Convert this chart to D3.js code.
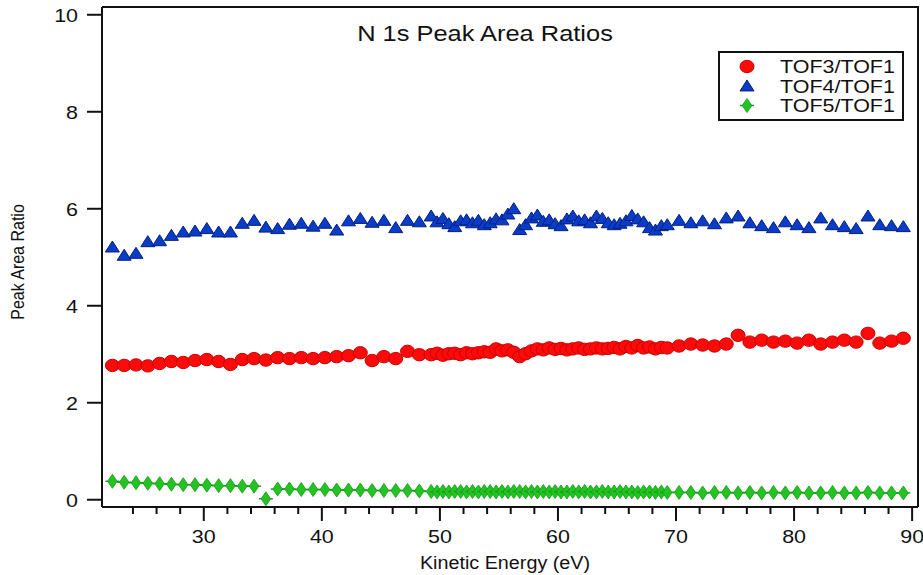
<!DOCTYPE html>
<html>
<head>
<meta charset="utf-8">
<script src="https://cdn.jsdelivr.net/npm/d3@7"></script>
<style>
  html, body { margin: 0; padding: 0; background: #fff; }
  svg { display: block; }
  text { font-family: "Liberation Sans", Arial, sans-serif; fill: #111; }
</style>
</head>
<body>
<svg id="chart" width="923" height="575"></svg>
<script>
// Kinetic energies (eV) of the measured points
const energy = [
  22.3, 23.3, 24.3, 25.3, 26.3, 27.3, 28.3, 29.3, 30.3, 31.3, 32.3, 33.3, 34.3, 35.3,
  36.3, 37.3, 38.3, 39.3, 40.3, 41.3, 42.3, 43.3, 44.3, 45.3, 46.3, 47.3, 48.3,
  49.3, 49.8, 50.3, 50.8, 51.3, 51.8, 52.3, 52.8, 53.3, 53.8, 54.3, 54.8, 55.3, 55.8,
  56.3, 56.8, 57.3, 57.8, 58.3, 58.8, 59.3, 59.8, 60.3, 60.8, 61.3, 61.8, 62.3, 62.8,
  63.3, 63.8, 64.3, 64.8, 65.3, 65.8, 66.3, 66.8, 67.3, 67.8, 68.3, 68.8, 69.3,
  70.3, 71.3, 72.3, 73.3, 74.3, 75.3, 76.3, 77.3, 78.3, 79.3, 80.3, 81.3, 82.3, 83.3,
  84.3, 85.3, 86.3, 87.3, 88.3, 89.3
];

// TOF3/TOF1 peak area ratio
const tof3 = [
  2.76, 2.76, 2.77, 2.75, 2.80, 2.84, 2.82, 2.86, 2.88, 2.84, 2.78, 2.88, 2.90, 2.87,
  2.92, 2.90, 2.92, 2.90, 2.92, 2.94, 2.96, 3.02, 2.86, 2.94, 2.90, 3.05, 2.98,
  2.98, 3.01, 2.97, 3.00, 3.01, 2.98, 3.02, 3.00, 3.02, 3.04, 3.03, 3.10, 3.06, 3.08,
  3.03, 2.94, 3.00, 3.06, 3.10, 3.08, 3.12, 3.09, 3.11, 3.08, 3.10, 3.12, 3.09, 3.10,
  3.12, 3.10, 3.11, 3.13, 3.10, 3.15, 3.12, 3.17, 3.12, 3.14, 3.10, 3.13, 3.12,
  3.16, 3.20, 3.18, 3.16, 3.20, 3.38, 3.24, 3.28, 3.24, 3.26, 3.22, 3.28, 3.20, 3.24,
  3.28, 3.24, 3.42, 3.22, 3.26, 3.32
];

// TOF4/TOF1 peak area ratio
const tof4 = [
  5.20, 5.03, 5.07, 5.31, 5.33, 5.44, 5.51, 5.53, 5.58, 5.51, 5.51, 5.69, 5.75, 5.61,
  5.58, 5.67, 5.69, 5.63, 5.69, 5.55, 5.74, 5.79, 5.71, 5.75, 5.60, 5.75, 5.72,
  5.84, 5.72, 5.79, 5.68, 5.62, 5.74, 5.76, 5.70, 5.75, 5.66, 5.70, 5.78, 5.76, 5.88,
  5.99, 5.56, 5.66, 5.80, 5.86, 5.73, 5.76, 5.68, 5.64, 5.78, 5.84, 5.74, 5.76, 5.70,
  5.84, 5.79, 5.70, 5.66, 5.69, 5.74, 5.85, 5.78, 5.72, 5.60, 5.55, 5.64, 5.66,
  5.75, 5.70, 5.74, 5.68, 5.80, 5.84, 5.70, 5.64, 5.60, 5.72, 5.66, 5.60, 5.80, 5.66,
  5.62, 5.58, 5.84, 5.66, 5.64, 5.62
];

// TOF5/TOF1 peak area ratio
const tof5 = [
  0.37, 0.35, 0.34, 0.33, 0.32, 0.31, 0.30, 0.30, 0.29, 0.28, 0.28, 0.27, 0.27, 0.01,
  0.21, 0.21, 0.20, 0.20, 0.20, 0.19, 0.19, 0.19, 0.18, 0.18, 0.18, 0.18, 0.17,
  0.16, 0.15, 0.16, 0.15, 0.16, 0.16, 0.15, 0.16, 0.15, 0.16, 0.16, 0.15, 0.16, 0.15,
  0.16, 0.16, 0.15, 0.16, 0.15, 0.16, 0.15, 0.16, 0.15, 0.15, 0.16, 0.15, 0.16, 0.15,
  0.15, 0.16, 0.15, 0.15, 0.16, 0.15, 0.15, 0.14, 0.15, 0.15, 0.14, 0.15, 0.14,
  0.14, 0.14, 0.13, 0.14, 0.14, 0.13, 0.14, 0.13, 0.14, 0.13, 0.14, 0.13, 0.13, 0.14,
  0.13, 0.13, 0.14, 0.13, 0.13, 0.13
];

const seriesNames = ["TOF3/TOF1", "TOF4/TOF1", "TOF5/TOF1"];
const yTicks = [0, 2, 4, 6, 8, 10];
const xTicks = [30, 40, 50, 60, 70, 80, 90];
const xMinorTicks = [24, 26, 28, 32, 34, 36, 38, 42, 44, 46, 48, 52, 54, 56, 58,
                     62, 64, 66, 68, 72, 74, 76, 78, 82, 84, 86, 88];
const titleText = "N 1s Peak Area Ratios";
const xTitle = "Kinetic Energy (eV)";
const yTitle = "Peak Area Ratio";

// layout
const plot = { left: 102, right: 918, top: 7, bottom: 507 };
const stretch = 1.13;   // horizontal widening of the lettering

const svg = d3.select("#chart");

const x = d3.scaleLinear().domain([21.42, 90.54]).range([plot.left, plot.right]);
const y = d3.scaleLinear().domain([-0.16, 10.15]).range([plot.bottom, plot.top]);

const styles = [
  { fill: "#ff0a0a", stroke: "#c80000" },
  { fill: "#0b3cc8", stroke: "#00207f" },
  { fill: "#22c322", stroke: "#129a12" }
];

// marker drawing helpers
function circleMark(g, cx, cy, s) {
  g.append("ellipse").attr("cx", cx).attr("cy", cy).attr("rx", 7).attr("ry", 6.2)
    .attr("fill", s.fill).attr("stroke", s.stroke).attr("stroke-width", 1);
}
function triangleMark(g, cx, cy, s) {
  const w = 7, h = 11;
  g.append("path")
    .attr("d", `M${cx},${cy - h * 0.55}L${cx + w},${cy + h * 0.45}L${cx - w},${cy + h * 0.45}Z`)
    .attr("fill", s.fill).attr("stroke", s.stroke).attr("stroke-width", 1).attr("stroke-linejoin", "round");
}
function diamondMark(g, cx, cy, s) {
  g.append("line").attr("x1", cx - 7).attr("x2", cx + 7).attr("y1", cy).attr("y2", cy)
    .attr("stroke", s.stroke).attr("stroke-width", 1.4);
  const w = 4.8, h = 7;
  g.append("path")
    .attr("d", `M${cx},${cy - h}L${cx + w},${cy}L${cx},${cy + h}L${cx - w},${cy}Z`)
    .attr("fill", s.fill).attr("stroke", s.stroke).attr("stroke-width", 0.8);
}
const markers = [circleMark, triangleMark, diamondMark];
const seriesValues = [tof3, tof4, tof5];

// data points
const pts = svg.append("g").attr("class", "points");
[0, 1, 2].forEach(k => {
  const g = pts.append("g");
  energy.forEach((e, i) => markers[k](g, x(e), y(seriesValues[k][i]), styles[k]));
});

// frame (top and right edges)
svg.append("path")
  .attr("d", `M${plot.left},${plot.top}H${plot.right}V${plot.bottom}`)
  .attr("fill", "none").attr("stroke", "#111").attr("stroke-width", 2);

// y axis
const yAxis = svg.append("g")
  .attr("transform", `translate(${plot.left},0)`)
  .call(d3.axisLeft(y).tickValues(yTicks).tickSize(15).tickSizeOuter(0).tickFormat(d3.format("d")));
yAxis.select(".domain").attr("stroke", "#111").attr("stroke-width", 2)
  .attr("d", `M0,${plot.top}V${plot.bottom}`);
yAxis.selectAll(".tick line").attr("stroke", "#111").attr("stroke-width", 2);
yAxis.selectAll(".tick text")
  .attr("x", -24 / stretch).attr("dy", "0.36em")
  .attr("transform", `scale(${stretch},1)`)
  .style("font-size", "19px").style("font-family", "Liberation Sans, Arial, sans-serif");

// x axis, major ticks
const xAxis = svg.append("g")
  .attr("transform", `translate(0,${plot.bottom})`)
  .call(d3.axisBottom(x).tickValues(xTicks).tickSize(14).tickSizeOuter(0).tickFormat(d3.format("d")));
xAxis.select(".domain").attr("stroke", "#111").attr("stroke-width", 2)
  .attr("d", `M${plot.left},0H${plot.right}`);
xAxis.selectAll(".tick line").attr("stroke", "#111").attr("stroke-width", 2);
xAxis.selectAll(".tick text")
  .attr("y", 36).attr("dy", 0)
  .attr("transform", `scale(${stretch},1)`)
  .style("font-size", "19px").style("font-family", "Liberation Sans, Arial, sans-serif");

// x axis, minor ticks
svg.append("g")
  .attr("transform", `translate(0,${plot.bottom})`)
  .call(d3.axisBottom(x).tickValues(xMinorTicks).tickSize(7).tickSizeOuter(0).tickFormat(""))
  .call(g => g.select(".domain").remove())
  .selectAll(".tick line").attr("stroke", "#111").attr("stroke-width", 2);

// titles
function stretchedText(px, py, str, size, anchor) {
  return svg.append("text")
    .attr("transform", `translate(${px},${py}) scale(${stretch},1)`)
    .attr("text-anchor", anchor || "middle")
    .style("font-size", size + "px")
    .text(str);
}
stretchedText(485, 41, titleText, 22.5);
stretchedText(505, 569, xTitle, 17.5);

svg.append("text")
  .attr("transform", `translate(24,262) scale(${stretch},1) rotate(-90)`)
  .attr("text-anchor", "middle")
  .style("font-size", "16px")
  .text(yTitle);

// legend
const legend = svg.append("g");
legend.append("rect")
  .attr("x", 719).attr("y", 52).attr("width", 184).attr("height", 68)
  .attr("fill", "#fff").attr("stroke", "#111").attr("stroke-width", 2);
const rowY = [66.5, 86, 105.5];
seriesNames.forEach((name, k) => {
  markers[k](legend, 747, rowY[k], styles[k]);
  legend.append("text")
    .attr("transform", `translate(780,${rowY[k] + 6.8}) scale(${stretch},1)`)
    .style("font-size", "19px")
    .text(name);
});
</script>
</body>
</html>
